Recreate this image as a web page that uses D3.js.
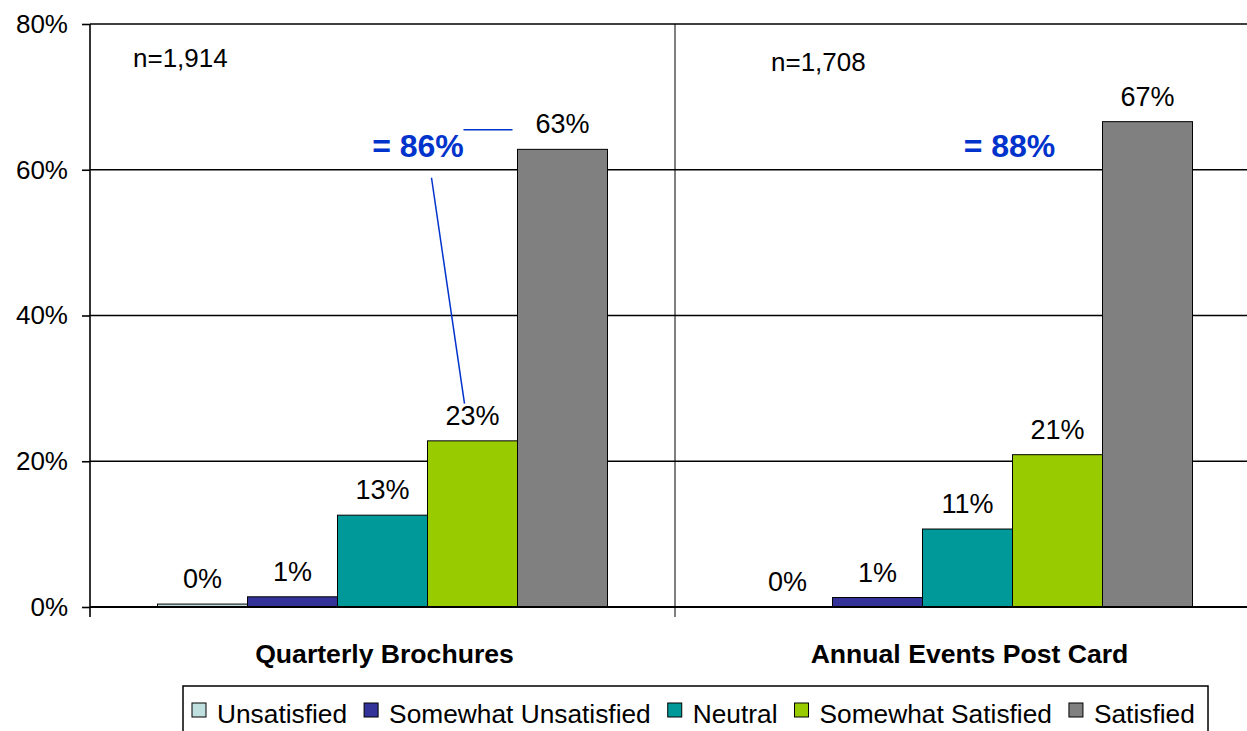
<!DOCTYPE html>
<html>
<head>
<meta charset="utf-8">
<script src="https://cdn.jsdelivr.net/npm/d3@7"></script>
<style>
  body { margin: 0; background: #fff; }
  text { font-family: "Liberation Sans", Arial, sans-serif; }
</style>
</head>
<body>
<div id="wrapper"></div>
<script>
// data
let categories = ['Quarterly Brochures', 'Annual Events Post Card'];
let series = ['Unsatisfied', 'Somewhat Unsatisfied', 'Neutral', 'Somewhat Satisfied', 'Satisfied'];
let brochureValues = [0.004, 0.014, 0.126, 0.228, 0.628];
let postCardValues = [0.000, 0.013, 0.107, 0.209, 0.666];
let valueLabels = [['0%', '1%', '13%', '23%', '63%'], ['0%', '1%', '11%', '21%', '67%']];
let sampleSizes = ['n=1,914', 'n=1,708'];
let combined = ['= 86%', '= 88%'];
let yTicks = [0, 0.2, 0.4, 0.6, 0.8];

let colors = ['#c0e0e0', '#333399', '#009999', '#99cc00', '#808080'];

let W = 1247, H = 731;
let svg = d3.select('#wrapper').append('svg')
  .attr('width', W).attr('height', H)
  .style('display', 'block');

let yscale = d3.scaleLinear().domain([0, 0.8]).range([607, 24]);
let x0 = d3.scaleBand().domain(categories).range([90, 1260]).padding(0);
let x1 = d3.scaleBand().domain(series).range([0, x0.bandwidth()])
  .paddingInner(0).paddingOuter(0.75);
let color = d3.scaleOrdinal().domain(series).range(colors);

// gridlines
svg.append('g').selectAll('line')
  .data(yTicks.slice(1))
  .enter().append('line')
  .attr('x1', 90).attr('x2', W)
  .attr('y1', d => yscale(d)).attr('y2', d => yscale(d))
  .attr('stroke', '#000').attr('stroke-width', 1.6);

// y axis
let yAxis = d3.axisLeft(yscale)
  .tickValues(yTicks)
  .tickFormat(d3.format('.0%'))
  .tickSize(8)
  .tickPadding(14);
let yg = svg.append('g')
  .attr('transform', 'translate(90,0)')
  .call(yAxis);
yg.select('.domain').remove();
yg.selectAll('.tick line').attr('stroke', '#000').attr('stroke-width', 1.6);
yg.selectAll('.tick text')
  .style('font-size', '26px')
  .style('font-family', '"Liberation Sans", Arial, sans-serif')
  .attr('fill', '#000');

// category dividers (left axis line included)
svg.append('g').selectAll('line')
  .data(categories.concat(['end']))
  .enter().append('line')
  .attr('x1', (d, i) => i < categories.length ? x0(d) : x0.range()[1])
  .attr('x2', (d, i) => i < categories.length ? x0(d) : x0.range()[1])
  .attr('y1', yscale(0.8)).attr('y2', yscale(0) + 10)
  .attr('stroke', '#000')
  .attr('stroke-width', (d, i) => i === 0 ? 1.6 : 1);

// bars
let data = [brochureValues, postCardValues];
let groups = svg.append('g').selectAll('g')
  .data(categories)
  .enter().append('g')
  .attr('transform', d => 'translate(' + x0(d) + ',0)');

groups.selectAll('rect')
  .data((d, i) => data[i].map((v, j) => ({ key: series[j], value: v })))
  .enter().append('rect')
  .filter(d => d.value > 0)
  .attr('x', d => x1(d.key))
  .attr('width', x1.bandwidth())
  .attr('y', d => yscale(d.value))
  .attr('height', d => yscale(0) - yscale(d.value))
  .attr('fill', d => color(d.key))
  .attr('stroke', '#000')
  .attr('stroke-width', 1);

groups.selectAll('text.val')
  .data((d, i) => data[i].map((v, j) => ({ key: series[j], value: v, label: valueLabels[i][j] })))
  .enter().append('text')
  .attr('class', 'val')
  .attr('x', d => x1(d.key) + x1.bandwidth() / 2)
  .attr('y', d => yscale(d.value) - 16)
  .attr('text-anchor', 'middle')
  .style('font-size', '27px')
  .text(d => d.label);

// x axis baseline
svg.append('line')
  .attr('x1', 90).attr('x2', W)
  .attr('y1', yscale(0)).attr('y2', yscale(0))
  .attr('stroke', '#000').attr('stroke-width', 2);

// category labels
svg.append('g').selectAll('text')
  .data(categories)
  .enter().append('text')
  .attr('x', d => x0(d) + x0.bandwidth() / 2 + 2)
  .attr('y', 663)
  .attr('text-anchor', 'middle')
  .style('font-size', '26.6px')
  .style('font-weight', 'bold')
  .text(d => d);

// sample sizes
svg.append('g').selectAll('text')
  .data(sampleSizes)
  .enter().append('text')
  .attr('x', (d, i) => x0(categories[i]) + [43, 96][i])
  .attr('y', (d, i) => [67, 71][i])
  .style('font-size', '26px')
  .text(d => d);

// combined satisfied annotations
svg.append('g').selectAll('text')
  .data(combined)
  .enter().append('text')
  .attr('x', (d, i) => x0(categories[i]) + x1('Somewhat Satisfied') + [-9.5, -3][i])
  .attr('y', yscale(0.617))
  .attr('text-anchor', 'middle')
  .attr('fill', '#0033cc')
  .style('font-size', '32px')
  .style('font-weight', 'bold')
  .text(d => d);

// leader lines for the first group
let g0 = x0(categories[0]);
svg.append('line')
  .attr('x1', g0 + x1('Somewhat Satisfied') + 36)
  .attr('x2', g0 + x1('Satisfied') - 5)
  .attr('y1', yscale(0.655)).attr('y2', yscale(0.655))
  .attr('stroke', '#0033cc').attr('stroke-width', 1.5);
svg.append('line')
  .attr('x1', g0 + x1('Somewhat Satisfied') + 4)
  .attr('x2', g0 + x1('Somewhat Satisfied') + 37)
  .attr('y1', yscale(0.589)).attr('y2', yscale(0.279))
  .attr('stroke', '#0033cc').attr('stroke-width', 1.5);

// legend
let legend = svg.append('g');
legend.append('rect')
  .attr('x', 183).attr('y', 686)
  .attr('width', 1025).attr('height', 70)
  .attr('fill', '#fff')
  .attr('stroke', '#000').attr('stroke-width', 1.5);

let lx = 192;
series.forEach(function (s, i) {
  legend.append('rect')
    .attr('x', lx).attr('y', 703)
    .attr('width', 14).attr('height', 14)
    .attr('fill', color(s))
    .attr('stroke', '#000').attr('stroke-width', 1);
  let t = legend.append('text')
    .attr('x', lx + 25).attr('y', 723)
    .style('font-size', '26.3px')
    .text(s);
  lx = lx + 25 + t.node().getComputedTextLength() + 17;
});
</script>
</body>
</html>
